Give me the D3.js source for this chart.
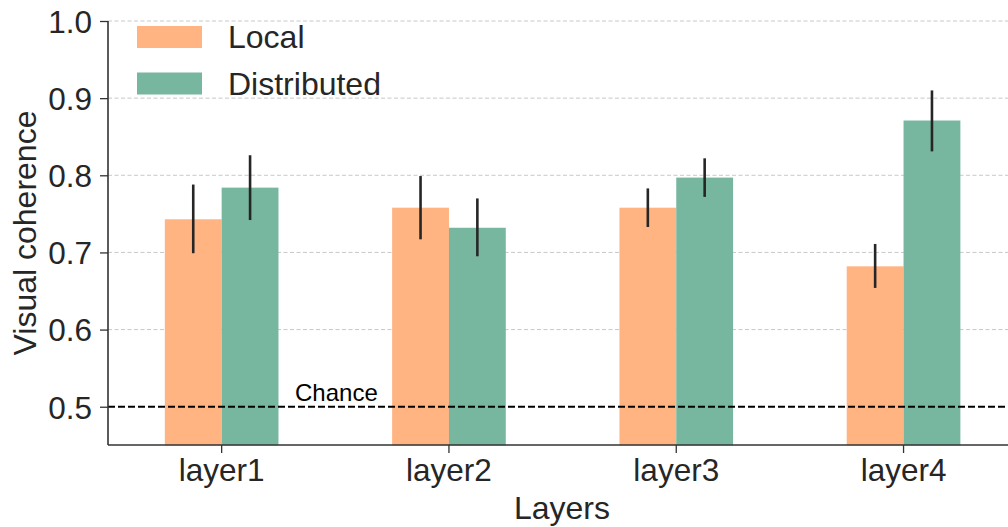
<!DOCTYPE html>
<html>
<head>
<meta charset="utf-8">
<script src="https://cdn.jsdelivr.net/npm/d3@7"></script>
<style>
  body { margin: 0; background: #fff; }
  svg text { font-family: "Liberation Sans", Arial, sans-serif; fill: #262626; }
</style>
</head>
<body>
<div id="chart"></div>
<script>
var layers = ["layer1", "layer2", "layer3", "layer4"];
var seriesNames = ["Local", "Distributed"];
var localMean = [0.743, 0.758, 0.758, 0.682];
var localLow = [0.699, 0.717, 0.733, 0.654];
var localHigh = [0.788, 0.799, 0.783, 0.711];
var distMean = [0.784, 0.732, 0.797, 0.871];
var distLow = [0.742, 0.695, 0.772, 0.831];
var distHigh = [0.826, 0.770, 0.822, 0.910];
var yTicks = [0.5, 0.6, 0.7, 0.8, 0.9, 1.0];
var chance = 0.5;

var width = 1008, height = 527;
var colors = { "Local": "#ffb482", "Distributed": "#77b69f" };

var svg = d3.select("#chart").append("svg")
    .attr("width", width)
    .attr("height", height);

var plotLeft = 108, plotTop = 21, plotBottom = 445;

var y = d3.scaleLinear().domain([0.45, 1.0]).range([plotBottom + 0.3, plotTop]);
var x = d3.scaleBand().domain(layers).range([plotLeft, plotLeft + 4 * 227.3]).paddingInner(0).paddingOuter(0);
var xs = d3.scaleBand().domain(seriesNames).range([0, x.bandwidth() * 0.5]);

// grid lines
svg.append("g").selectAll("line")
    .data(yTicks.filter(function (d) { return d > chance; }))
    .enter().append("line")
    .attr("x1", plotLeft).attr("x2", width)
    .attr("y1", function (d) { return y(d); })
    .attr("y2", function (d) { return y(d); })
    .attr("stroke", "#c8c8c8")
    .attr("stroke-width", 1)
    .attr("stroke-dasharray", "4,2.5");

// rows for bars
var rows = [];
layers.forEach(function (l, i) {
    rows.push({ layer: l, series: "Local", v: localMean[i], lo: localLow[i], hi: localHigh[i] });
    rows.push({ layer: l, series: "Distributed", v: distMean[i], lo: distLow[i], hi: distHigh[i] });
});

var barX = function (d) { return x(d.layer) + x.bandwidth() * 0.25 + xs(d.series); };

svg.append("g").selectAll("rect")
    .data(rows)
    .enter().append("rect")
    .attr("x", barX)
    .attr("width", xs.bandwidth())
    .attr("y", function (d) { return y(d.v); })
    .attr("height", function (d) { return y(0.45) - y(d.v); })
    .attr("fill", function (d) { return colors[d.series]; });

// chance line
svg.append("line")
    .attr("x1", plotLeft).attr("x2", width)
    .attr("y1", y(chance)).attr("y2", y(chance))
    .attr("stroke", "#000")
    .attr("stroke-width", 2)
    .attr("stroke-dasharray", "7,3");

svg.append("text")
    .attr("x", 295).attr("y", y(chance) - 6)
    .style("font-size", "24px")
    .style("fill", "#000")
    .text("Chance");

// error bars
svg.append("g").selectAll("line")
    .data(rows)
    .enter().append("line")
    .attr("x1", function (d) { return barX(d) + xs.bandwidth() / 2; })
    .attr("x2", function (d) { return barX(d) + xs.bandwidth() / 2; })
    .attr("y1", function (d) { return y(d.lo); })
    .attr("y2", function (d) { return y(d.hi); })
    .attr("stroke", "#262626")
    .attr("stroke-width", 2.6);

// axes
var yAxis = svg.append("g")
    .attr("transform", "translate(" + plotLeft + ",0)")
    .call(d3.axisLeft(y).tickValues(yTicks).tickFormat(d3.format(".1f")).tickSizeOuter(0).tickSize(8).tickPadding(8));
yAxis.select(".domain").attr("d", "M0," + plotTop + "V" + plotBottom).attr("stroke", "#333").attr("stroke-width", 1.6);
yAxis.selectAll(".tick line").attr("stroke", "#333").attr("stroke-width", 1.3);
yAxis.selectAll(".tick text").style("font-size", "31.5px").attr("fill", "#262626").attr("dy", "0.36em");

var xAxis = svg.append("g")
    .attr("transform", "translate(0," + plotBottom + ")")
    .call(d3.axisBottom(x).tickSizeOuter(0).tickSize(8).tickPadding(6));
xAxis.select(".domain").attr("d", "M" + plotLeft + ",0H" + width).attr("stroke", "#333").attr("stroke-width", 1.6);
xAxis.selectAll(".tick line").attr("stroke", "#333").attr("stroke-width", 1.3);
xAxis.selectAll(".tick text").style("font-size", "31.5px").attr("fill", "#262626");

// axis titles
svg.append("text")
    .attr("x", 562).attr("y", 519)
    .attr("text-anchor", "middle")
    .style("font-size", "32px")
    .text("Layers");

svg.append("text")
    .attr("transform", "translate(36," + (plotTop + plotBottom) / 2 + ") rotate(-90)")
    .attr("text-anchor", "middle")
    .style("font-size", "32px")
    .text("Visual coherence");

// legend
var legend = svg.append("g").selectAll("g")
    .data(seriesNames)
    .enter().append("g")
    .attr("transform", function (d, i) { return "translate(137," + (26 + i * 46.5) + ")"; });
legend.append("rect")
    .attr("width", 65).attr("height", 22)
    .attr("fill", function (d) { return colors[d]; });
legend.append("text")
    .attr("x", 91).attr("y", 22)
    .style("font-size", "32px")
    .text(function (d) { return d; });
</script>
</body>
</html>
